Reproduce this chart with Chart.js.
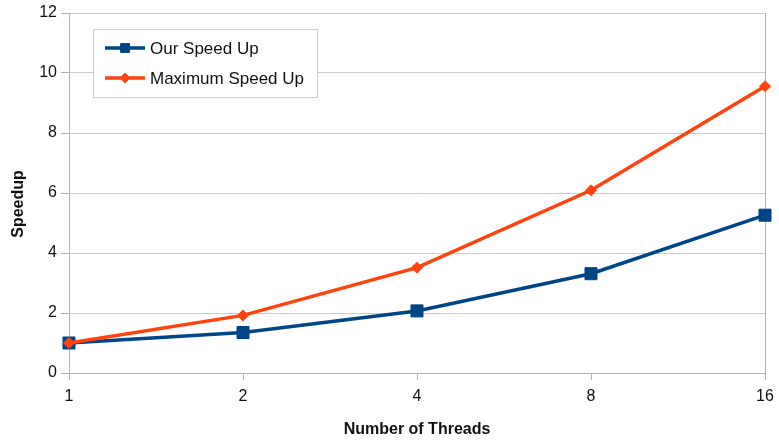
<!DOCTYPE html>
<html>
<head>
<meta charset="utf-8">
<style>
  html, body { margin: 0; padding: 0; background: #ffffff; }
  #wrap { width: 779px; height: 443px; }
</style>
<script src="https://cdn.jsdelivr.net/npm/chart.js@4/dist/chart.umd.min.js"></script>
</head>
<body>
<div id="wrap"><canvas id="speedup"></canvas></div>
<script>
// Thread counts and measured / ideal speedups
const threadCounts = ['1', '2', '4', '8', '16'];
const ourSpeedUp = [1.0, 1.35, 2.07, 3.31, 5.26];
const maxSpeedUp = [1.0, 1.92, 3.51, 6.09, 9.56];
const seriesNames = ['Our Speed Up', 'Maximum Speed Up'];
const yTitle = 'Speedup';
const xTitle = 'Number of Threads';

const BLUE = '#004586';
const ORANGE = '#ff420e';
const GRID = '#cccccc';
const AXIS = '#b3b3b3';
const FONT = '"Liberation Sans", Arial, sans-serif';

// Boxed legend drawn inside the plot area, showing line + marker samples
const innerLegend = {
  id: 'innerLegend',
  afterDraw(chart) {
    const ctx = chart.ctx;
    const x0 = 93.5, y0 = 29.5, w = 224, h = 68;
    ctx.save();
    ctx.fillStyle = '#ffffff';
    ctx.fillRect(x0, y0, w, h);
    ctx.strokeStyle = '#cfcfcf';
    ctx.lineWidth = 1;
    ctx.strokeRect(x0, y0, w, h);
    const rows = [
      { ds: chart.data.datasets[0], y: 48, style: 'rect', r: 6 },
      { ds: chart.data.datasets[1], y: 78, style: 'rectRot', r: 5 }
    ];
    rows.forEach(row => {
      ctx.strokeStyle = row.ds.borderColor;
      ctx.lineWidth = 3.5;
      ctx.beginPath();
      ctx.moveTo(105, row.y);
      ctx.lineTo(145, row.y);
      ctx.stroke();
      ctx.fillStyle = row.ds.borderColor;
      ctx.lineWidth = 1;
      Chart.helpers.drawPoint(ctx, { pointStyle: row.style, radius: row.r, borderWidth: 1 }, 125, row.y);
      ctx.fill();
      ctx.stroke();
      ctx.fillStyle = '#111111';
      ctx.font = '17px ' + FONT;
      ctx.textBaseline = 'middle';
      ctx.textAlign = 'left';
      ctx.fillText(row.ds.label, 150, row.y + 1);
    });
    ctx.restore();
  }
};

// Vertical axis title, rotated and placed beside the tick labels
const yAxisTitle = {
  id: 'yAxisTitle',
  afterDraw(chart) {
    const ctx = chart.ctx;
    ctx.save();
    ctx.translate(19, 204);
    ctx.rotate(-Math.PI / 2);
    ctx.fillStyle = '#111111';
    ctx.font = 'bold 16px ' + FONT;
    ctx.textAlign = 'center';
    ctx.textBaseline = 'middle';
    ctx.fillText(yTitle, 0, 0);
    ctx.restore();
  }
};

new Chart(document.getElementById('speedup'), {
  type: 'line',
  data: {
    labels: threadCounts,
    datasets: [
      {
        label: seriesNames[0],
        data: ourSpeedUp,
        borderColor: BLUE,
        backgroundColor: BLUE,
        borderWidth: 3.5,
        pointStyle: 'rect',
        pointRadius: 8.5,
        pointBorderWidth: 1,
        tension: 0,
        clip: false,
        order: 2
      },
      {
        label: seriesNames[1],
        data: maxSpeedUp,
        borderColor: ORANGE,
        backgroundColor: ORANGE,
        borderWidth: 3.5,
        pointStyle: 'rectRot',
        pointRadius: 5.5,
        pointBorderWidth: 1,
        tension: 0,
        clip: false,
        order: 1
      }
    ]
  },
  options: {
    responsive: true,
    maintainAspectRatio: false,
    animation: false,
    devicePixelRatio: 1,
    layout: { padding: { top: 13, right: 14, left: 0, bottom: 0 } },
    plugins: {
      legend: { display: false },
      tooltip: { enabled: false }
    },
    scales: {
      x: {
        offset: false,
        afterFit(scale) {
          scale.height = 70;
          scale.paddingLeft = 0;
          scale.paddingRight = 0;
        },
        grid: {
          drawOnChartArea: true,
          color: ctx => (ctx.index === threadCounts.length - 1 ? AXIS : 'rgba(0,0,0,0)'),
          tickColor: AXIS,
          tickLength: 7,
          lineWidth: 1
        },
        border: { color: AXIS, width: 1 },
        ticks: {
          color: '#111111',
          font: { family: FONT, size: 16 },
          padding: 7,
          maxRotation: 0
        },
        title: {
          display: true,
          text: xTitle,
          color: '#111111',
          font: { family: FONT, size: 16, weight: 'bold' },
          padding: { top: 4, bottom: 4 }
        }
      },
      y: {
        min: 0,
        max: 12,
        afterFit(scale) {
          scale.width = 69;
          scale.paddingTop = 0;
          scale.paddingBottom = 0;
        },
        grid: {
          color: GRID,
          tickColor: AXIS,
          tickLength: 8,
          lineWidth: 1
        },
        border: { color: AXIS, width: 1 },
        ticks: {
          stepSize: 2,
          color: '#111111',
          font: { family: FONT, size: 16 },
          padding: 4
        },
        title: { display: false }
      }
    }
  },
  plugins: [innerLegend, yAxisTitle]
});
</script>
</body>
</html>
